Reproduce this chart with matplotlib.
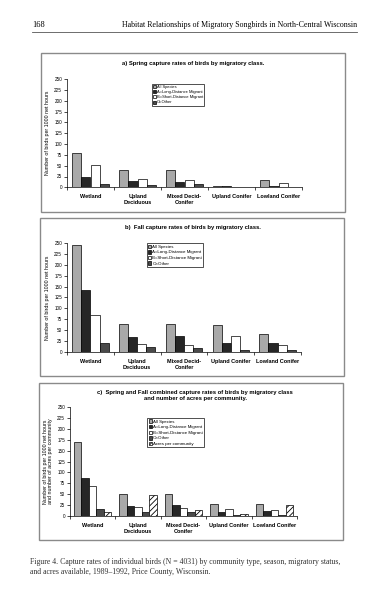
import matplotlib.pyplot as plt
from matplotlib.patches import Rectangle

plt.rcParams['font.family'] = ['Liberation Sans', 'DejaVu Sans']
plt.rcParams['hatch.linewidth'] = 0.6

W, H = 378, 600

comunidades = ['Wetland', 'Upland\nDeciduous', 'Mixed Decid-\nConifer', 'Upland Conifer', 'Lowland Conifer']
clases = ['All Species', 'A=Long-Distance Migrant', 'B=Short-Distance Migrant', 'O=Other']

# a) primavera
prim_todas = [80, 39, 39, 4, 17]
prim_a = [23, 14, 13, 3, 3]
prim_b = [51, 20, 18, 1, 9]
prim_o = [8, 5, 7, 0.5, 1.5]

# b) otono
oto_todas = [246, 64, 63, 62, 41]
oto_a = [142, 35, 37, 21, 19]
oto_b = [84, 18, 15, 36, 15]
oto_o = [21, 11, 9, 3, 3]

# c) combinado + acres
comb_todas = [170, 49, 50, 28, 27]
comb_a = [87, 23, 24, 9, 11]
comb_b = [68, 19, 17, 16, 13]
comb_o = [16, 8, 8, 2, 2]
acres = [8, 48, 13, 5, 24]

colores = ['#a9a9a9', '#262626', 'white', '#4a4a4a', 'white']
tramas = [None, None, None, None, '//////']


def caja(x0, y0, x1, y1):
  # marco gris alrededor de cada panel
  fig.patches.append(Rectangle((x0 / W, 1 - y1 / H), (x1 - x0) / W, (y1 - y0) / H,
                               transform=fig.transFigure, fill=False,
                               edgecolor='#8a8a8a', linewidth=1.0))


def ejes(x0, y0, x1, y1):
  return fig.add_axes([x0 / W, 1 - y1 / H, (x1 - x0) / W, (y1 - y0) / H])


def graficar(ax, series, etiquetas, ancho, ylabel, leg_pos, leg_size):
  n = len(series)
  for k, vals in enumerate(series):
    xs = [i + 0.5 + (k - (n - 1) / 2) * ancho for i in range(len(vals))]
    ax.bar(xs, vals, width=ancho, color=colores[k], edgecolor='black',
           linewidth=0.5, hatch=tramas[k], label=etiquetas[k])
  ax.set_xlim(0, 5)
  ax.set_ylim(0, 250)
  ax.set_yticks(range(0, 251, 25))
  ax.tick_params(axis='y', labelsize=3.3, length=2, width=0.5, pad=1.5)
  ax.set_xticks([i + 0.5 for i in range(5)])
  ax.set_xticklabels(comunidades, fontsize=4.0, fontweight='bold', linespacing=1.3)
  ax.tick_params(axis='x', length=0, pad=5)
  ax.set_xticks(range(6), minor=True)
  ax.tick_params(axis='x', which='minor', length=2, width=0.5)
  for lado in ['top', 'right']:
    ax.spines[lado].set_visible(False)
  ax.spines['left'].set_linewidth(0.5)
  ax.spines['bottom'].set_linewidth(0.5)
  ax.set_ylabel(ylabel, fontsize=3.8, labelpad=3, linespacing=1.1)
  leg = ax.legend(loc='upper left', bbox_to_anchor=leg_pos, fontsize=leg_size,
                  frameon=True, fancybox=False, borderpad=0.3, labelspacing=0.3,
                  handlelength=0.8, handleheight=0.8, handletextpad=0.2,
                  borderaxespad=0)
  leg.get_frame().set_edgecolor('black')
  leg.get_frame().set_linewidth(0.6)


fig = plt.figure(figsize=(3.78, 6.0), dpi=100)

# encabezado de la pagina
fig.text(32 / W, 1 - 25 / H, '168', fontsize=6.0, family='Liberation Serif', va='center')
fig.text(357 / W, 1 - 25 / H, 'Habitat Relationships of Migratory Songbirds in North-Central Wisconsin',
         fontsize=5.7, family='Liberation Serif', va='center', ha='right')
fig.add_artist(plt.Line2D([32 / W, 357 / W], [1 - 31.5 / H, 1 - 31.5 / H], color='#555', linewidth=0.6))

# panel a
caja(41, 53, 345, 212)
fig.text(193 / W, 1 - 63 / H, 'a) Spring capture rates of birds by migratory class.',
         fontsize=4.2, fontweight='bold', ha='center', va='center')
ax1 = ejes(67, 79.3, 302, 187.3)
graficar(ax1, [prim_todas, prim_a, prim_b, prim_o], clases, 0.195,
         'Number of birds per 1000 net hours', (0.36, 0.96), 2.9)

# panel b
caja(40, 218, 344, 376)
fig.text(193 / W, 1 - 228 / H, 'b)  Fall capture rates of birds by migratory class.',
         fontsize=4.2, fontweight='bold', ha='center', va='center')
ax2 = ejes(67, 243.3, 301, 351.7)
graficar(ax2, [oto_todas, oto_a, oto_b, oto_o], clases, 0.195,
         'Number of birds per 1000 net hours', (0.34, 1.0), 3.2)

# panel c
caja(39, 383, 343, 540)
fig.text(195 / W, 1 - 395.5 / H,
         'c)  Spring and Fall combined capture rates of birds by migratory class\nand number of acres per community.',
         fontsize=4.2, fontweight='bold', ha='center', va='center', linespacing=1.3)
ax3 = ejes(70, 407.3, 297, 515.7)
graficar(ax3, [comb_todas, comb_a, comb_b, comb_o, acres], clases + ['Acres per community'], 0.165,
         'Number of birds per 1000 net hours\nand number of acres per community', (0.34, 0.9), 3.2)

# pie de figura
fig.text(30 / W, 1 - 567 / H,
         'Figure 4. Capture rates of individual birds (N = 4031) by community type, season, migratory status,\n'
         'and acres available, 1989\u20131992, Price County, Wisconsin.',
         fontsize=5.6, family='Liberation Serif', va='center', linespacing=1.35, color='#333')

fig.savefig('out.png', dpi=100)
